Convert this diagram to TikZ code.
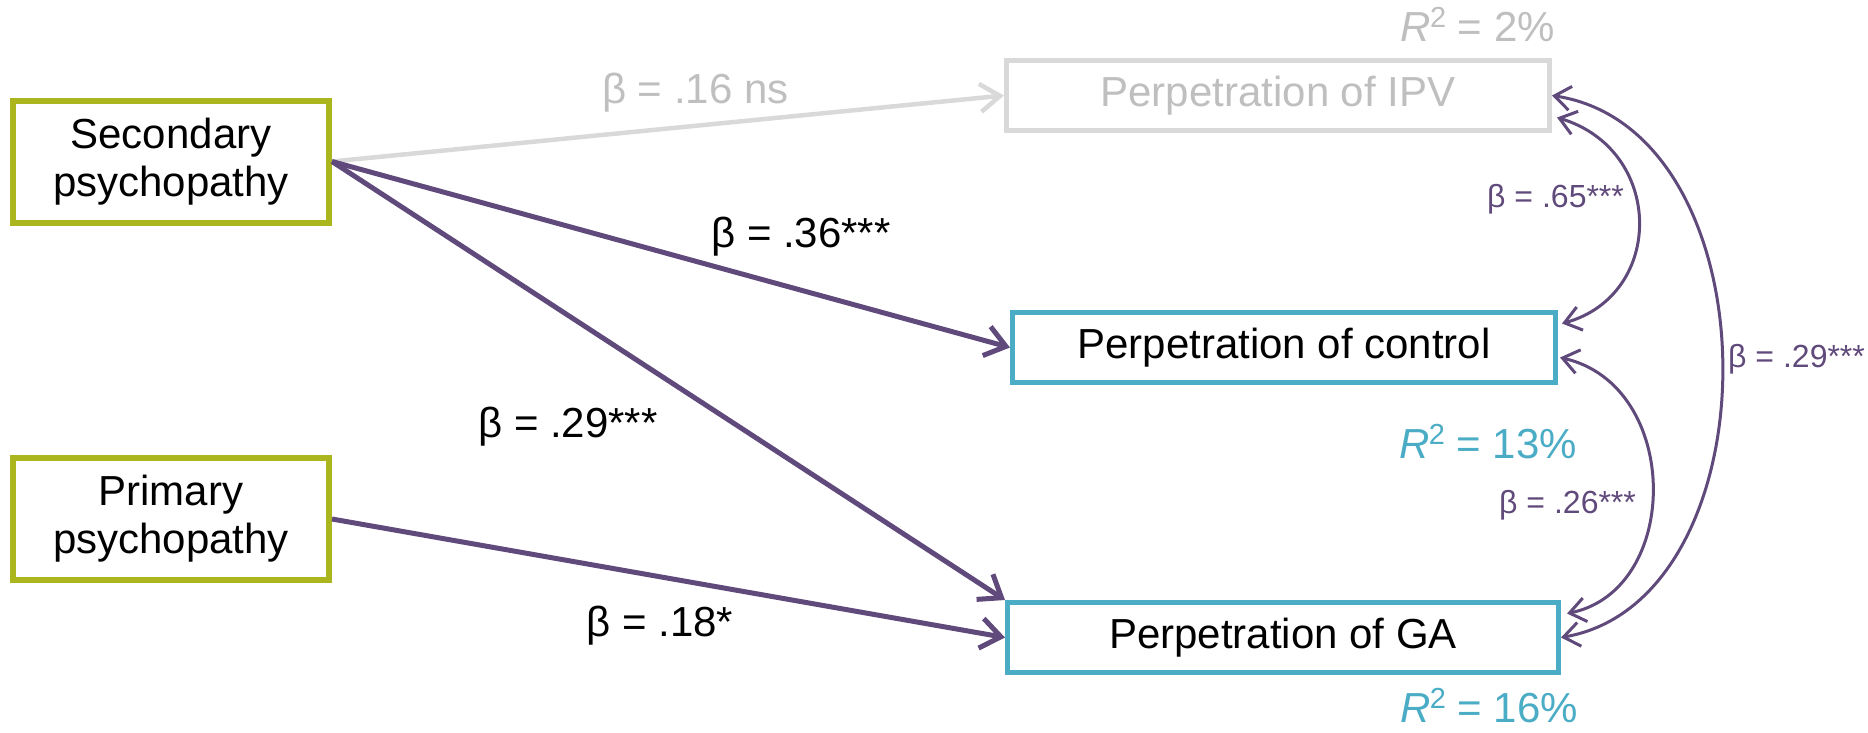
\documentclass[tikz,border=0pt]{standalone}
\usepackage{fontspec}
\setmainfont{Liberation Sans}
\usetikzlibrary{arrows.meta,calc}
\definecolor{cgreen}{RGB}{171,182,31}
\definecolor{cteal}{RGB}{75,172,198}
\definecolor{cpurple}{RGB}{96,74,123}
\definecolor{cgrayline}{RGB}{217,217,217}
\definecolor{cgraytext}{RGB}{191,191,191}
\newcommand{\rsq}[1]{\textit{R}\kern-1pt\raisebox{14pt}{\fontsize{29}{29}\selectfont 2} = #1}
\begin{document}
\begin{tikzpicture}[x=1pt,y=-1pt,
  box/.style={draw, line width=5pt, inner sep=0pt, align=center, fill=white,
    font=\fontsize{42}{48}\selectfont, minimum height=70pt},
  predbox/.style={box, draw=cgreen, line width=6pt, minimum width=316pt, minimum height=122pt},
  outbox/.style={box, draw=cteal},
  lbl/.style={inner sep=0pt, font=\fontsize{42}{48}\selectfont},
  slbl/.style={inner sep=0pt, text=cpurple, font=\fontsize{32}{36}\selectfont},
  pathline/.style={draw=cpurple, line width=5pt, -{Straight Barb[length=20pt,width=30pt]}},
  nsline/.style={draw=cgrayline, line width=4.5pt, -{Straight Barb[length=20pt,width=28pt]}},
  covline/.style={draw=cpurple, line width=3pt,
    {Straight Barb[length=16pt,width=24pt]}-{Straight Barb[length=16pt,width=24pt]}}
]
\useasboundingbox (0,0) rectangle (1868,732);

% predictors
\node[predbox] (sec) at (171,161.5) {Secondary\\psychopathy};
\node[predbox] (prim) at (171,519) {Primary\\psychopathy};

% outcomes
\node[box, draw=cgrayline, text=cgraytext, minimum width=543pt] (ipv) at (1278,95.5) {Perpetration of IPV};
\node[outbox, minimum width=543pt] (ctrl) at (1284,347.5) {Perpetration of control};
\node[outbox, minimum width=551pt] (ga) at (1283,637.5) {Perpetration of GA};

% R squared
\node[lbl, text=cgraytext, anchor=base east] (r1) at (1555,41) {\rsq{2\%}};
\node[lbl, text=cteal, anchor=base east] (r2) at (1577,458) {\rsq{13\%}};
\node[lbl, text=cteal, anchor=base east] (r3) at (1578,722) {\rsq{16\%}};

% paths
\draw[nsline] (sec.east) -- (ipv.west);
\draw[pathline] (sec.east) -- (ctrl.west);
\draw[pathline] (sec.east) -- (ga.north west);
\draw[pathline] (prim.east) -- (ga.west);

\node[lbl, text=cgraytext, anchor=base west] (b1) at (602,103) {β = .16 ns};
\node[lbl, anchor=base] (b2) at (801,247) {β = .36***};
\node[lbl, anchor=base] (b3) at (568,437) {β = .29***};
\node[lbl, anchor=base] (b4) at (660,636) {β = .18*};

% covariances
\draw[covline] ($(ipv.east)+(5,22)$) .. controls (1665,150) and (1665,295) .. ($(ctrl.east)+(4,-24)$);
\draw[covline] ($(ctrl.east)+(2,10)$) .. controls (1682,385) and (1682,590) .. ($(ga.east)+(6,-24)$);
\draw[covline] (ipv.east) .. controls (1777,130) and (1777,600) .. (ga.east);

\node[slbl, anchor=base west] (c1) at (1487,207) {β = .65***};
\node[slbl, anchor=base west] (c2) at (1499,513) {β = .26***};
\node[slbl, anchor=base west] (c3) at (1728,367) {β = .29***};
\end{tikzpicture}
\end{document}
